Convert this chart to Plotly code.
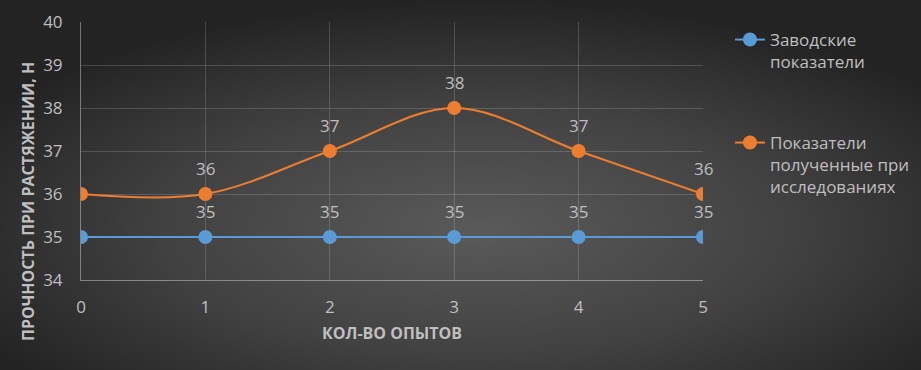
import base64
import plotly.graph_objects as go

# ---- data ----
experiments = [0, 1, 2, 3, 4, 5]
factory_values = [35, 35, 35, 35, 35, 35]
research_values = [36, 36, 37, 38, 37, 36]
factory_name = "Заводские<br>показатели"
research_name = "Показатели<br>полученные при<br>исследованиях"
x_title = "КОЛ-ВО ОПЫТОВ"
y_title = "ПРОЧНОСТЬ ПРИ РАСТЯЖЕНИИ, Н"

W, H = 921, 370
ML, MR, MT, MB = 81, 218, 22, 90
PW, PH = W - ML - MR, H - MT - MB

BLUE = "#5b9bd5"
ORANGE = "#ed7d31"
TXT = "#bfbfbf"
FONT = "Open Sans, Noto Sans, sans-serif"

svg = f'''<svg xmlns="http://www.w3.org/2000/svg" width="{W}" height="{H}" viewBox="0 0 {W} {H}" preserveAspectRatio="none">
<defs><radialGradient id="g" cx="0.52" cy="0.62" r="0.62" fx="0.52" fy="0.62">
<stop offset="0" stop-color="#5a5a5a"/><stop offset="0.55" stop-color="#414141"/><stop offset="1" stop-color="#232323"/>
</radialGradient></defs><rect width="{W}" height="{H}" fill="url(#g)"/></svg>'''
bg_src = "data:image/svg+xml;base64," + base64.b64encode(svg.encode()).decode()

fig = go.Figure()
fig.add_trace(go.Scatter(
    x=experiments, y=factory_values, name=factory_name, mode="lines+markers",
    line=dict(color=BLUE, width=2), marker=dict(size=14, color=BLUE),
    legend="legend", hoverinfo="skip"))
fig.add_trace(go.Scatter(
    x=experiments, y=research_values, name=research_name, mode="lines+markers",
    line=dict(color=ORANGE, width=2, shape="spline", smoothing=1.0),
    marker=dict(size=14, color=ORANGE), legend="legend2", hoverinfo="skip"))

annotations = []
for xs, ys in ((experiments, factory_values), (experiments, research_values)):
    for xv, yv in zip(xs[1:], ys[1:]):
        annotations.append(dict(x=xv, y=yv, xref="x", yref="y", text=str(yv),
                                showarrow=False, yshift=26,
                                xanchor="center", yanchor="middle",
                                font=dict(family=FONT, size=17, color=TXT)))
annotations.append(dict(x=0.5, y=(H - 333 - MB) / PH, xref="paper", yref="paper",
                        text=f"<b>{x_title}</b>", showarrow=False,
                        xanchor="center", yanchor="middle",
                        font=dict(family=FONT, size=16, color=TXT)))
annotations.append(dict(x=(28 - ML) / PW, y=(H - MB - 202) / PH, xref="paper", yref="paper",
                        text=f"<b>{y_title}</b>", showarrow=False, textangle=-90,
                        xanchor="center", yanchor="middle",
                        font=dict(family=FONT, size=16, color=TXT)))

axis_common = dict(showgrid=True, gridcolor="rgba(255,255,255,0.16)", gridwidth=1,
                   showline=True, linecolor="rgba(255,255,255,0.38)", linewidth=1,
                   zeroline=False, ticks="", tickfont=dict(family=FONT, size=17, color=TXT),
                   fixedrange=True)

fig.update_layout(
    width=W, height=H,
    margin=dict(l=ML, r=MR, t=MT, b=MB, pad=0, autoexpand=False),
    paper_bgcolor="rgba(0,0,0,0)", plot_bgcolor="rgba(0,0,0,0)",
    xaxis=dict(range=[0, 5], tickvals=experiments, ticklabelstandoff=12, **axis_common),
    yaxis=dict(range=[34, 40], dtick=1, ticklabelstandoff=14, **axis_common),
    legend=dict(x=(730 - ML) / PW, y=(H - MB - 22) / PH, xanchor="left", yanchor="top",
                xref="paper", yref="paper", bgcolor="rgba(0,0,0,0)", valign="top",
                font=dict(family=FONT, size=17, color=TXT)),
    legend2=dict(x=(730 - ML) / PW, y=(H - MB - 125) / PH, xanchor="left", yanchor="top",
                 xref="paper", yref="paper", bgcolor="rgba(0,0,0,0)", valign="top",
                 font=dict(family=FONT, size=17, color=TXT)),
    annotations=annotations,
    images=[dict(source=bg_src, xref="paper", yref="paper", x=-ML / PW, y=1 + MT / PH,
                 sizex=W / PW, sizey=H / PH, xanchor="left", yanchor="top",
                 sizing="stretch", layer="below")],
    showlegend=True,
)

fig.write_html("out.html", config={"displayModeBar": False},
               post_script="document.body.style.margin='0';document.body.style.background='#232323';")
